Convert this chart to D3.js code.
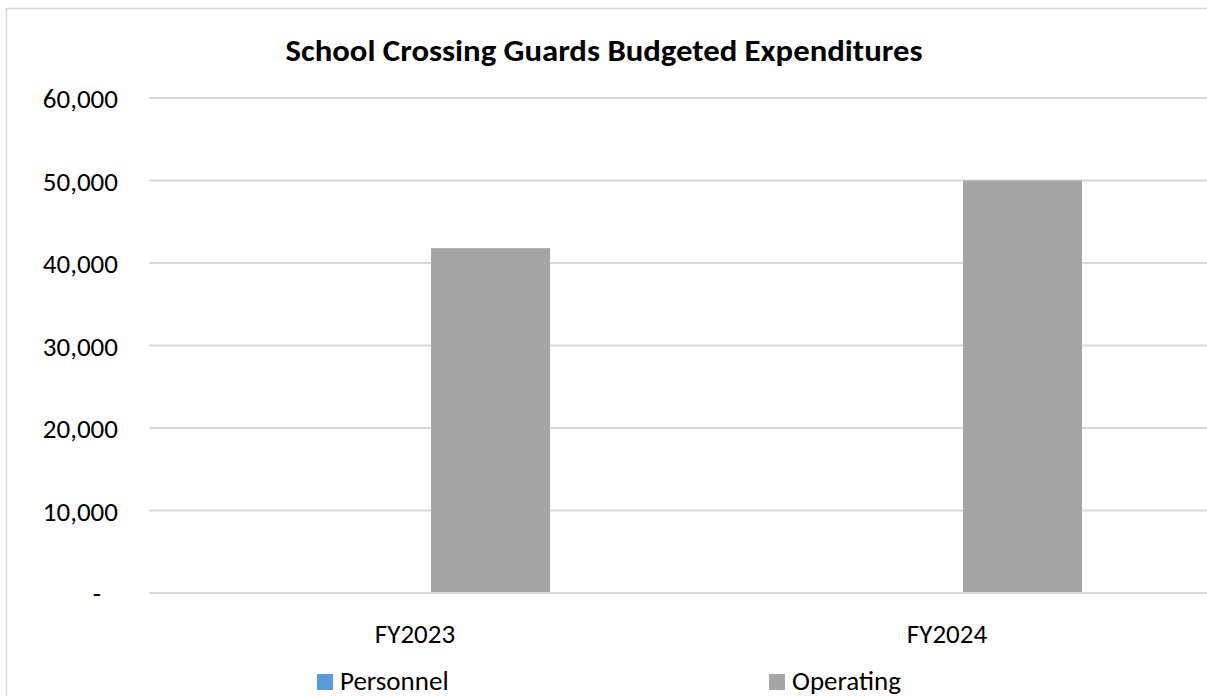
<!DOCTYPE html>
<html>
<head>
<meta charset="utf-8">
<script src="https://cdn.jsdelivr.net/npm/d3@7"></script>
<style>
  html, body { margin: 0; padding: 0; background: #fff; }
  svg { display: block; font-family: Carlito, Calibri, Lato, "Open Sans", sans-serif; }
</style>
</head>
<body>
<svg id="chart" width="1207" height="696"></svg>
<script>
// Budget figures by fiscal year
const categories = ["FY2023", "FY2024"];
const seriesNames = ["Personnel", "Operating"];
const personnel = [0, 0];
const operating = [41800, 50000];
const yTicks = [0, 10000, 20000, 30000, 40000, 50000, 60000];
const seriesColors = ["#5b9bd5", "#a5a5a5"];
const title = "School Crossing Guards Budgeted Expenditures";

const svg = d3.select("#chart");
const W = 1207, H = 696;

// chart frame
svg.append("path")
  .attr("d", `M6.5,${H} L6.5,8.5 L${W},8.5`)
  .attr("fill", "none")
  .attr("stroke", "#d9d9d9")
  .attr("stroke-width", 1.5);

// title
svg.append("text")
  .attr("x", 604)
  .attr("y", 61)
  .attr("text-anchor", "middle")
  .attr("font-weight", "bold")
  .attr("font-size", 30)
  .attr("textLength", 637)
  .attr("lengthAdjust", "spacingAndGlyphs")
  .attr("fill", "#000")
  .text(title);

const plotLeft = 149, plotRight = 1213;
const x0 = d3.scaleBand().domain(categories).range([plotLeft, plotRight]);
const x1 = d3.scaleBand().domain(seriesNames).range([0, x0.bandwidth()])
  .paddingInner(0.212).paddingOuter(0.8675);
const y = d3.scaleLinear().domain([0, 60000]).range([593, 98]);

// gridlines
svg.append("g")
  .selectAll("line")
  .data(yTicks)
  .join("line")
  .attr("x1", plotLeft)
  .attr("x2", W)
  .attr("y1", d => y(d))
  .attr("y2", d => y(d))
  .attr("stroke", "#d9d9d9")
  .attr("stroke-width", 2);

// y axis labels
const fmt = d3.format(",");
const yAxis = d3.axisLeft(y)
  .tickValues(yTicks)
  .tickSize(0)
  .tickPadding(0)
  .tickFormat(d => d === 0 ? "-" : fmt(d));
const yg = svg.append("g")
  .attr("transform", "translate(118,0)")
  .call(yAxis);
yg.select(".domain").remove();
yg.attr("font-family", null).attr("font-size", null);
yg.selectAll("text")
  .attr("font-size", 27)
  .attr("fill", "#000")
  .attr("dy", "0.36em")
  .attr("dx", d => d === 0 ? -17 : 0);

// bars
const rows = categories.map((c, i) => ({
  cat: c,
  values: [
    { name: seriesNames[0], value: personnel[i], color: seriesColors[0] },
    { name: seriesNames[1], value: operating[i], color: seriesColors[1] }
  ]
}));

svg.append("g")
  .selectAll("g")
  .data(rows)
  .join("g")
  .attr("transform", d => `translate(${x0(d.cat)},0)`)
  .selectAll("rect")
  .data(d => d.values)
  .join("rect")
  .attr("x", d => x1(d.name))
  .attr("width", x1.bandwidth())
  .attr("y", d => y(d.value))
  .attr("height", d => y(0) - y(d.value))
  .attr("fill", d => d.color);

// baseline drawn over bars
svg.append("line")
  .attr("x1", plotLeft).attr("x2", W)
  .attr("y1", y(0)).attr("y2", y(0))
  .attr("stroke", "#d9d9d9").attr("stroke-width", 2);

// category axis labels
const xAxis = d3.axisBottom(x0).tickSize(0).tickPadding(0);
const xg = svg.append("g").attr("transform", "translate(0,643)").call(xAxis);
xg.select(".domain").remove();
xg.attr("font-family", null).attr("font-size", null);
xg.selectAll("text")
  .attr("dy", 0)
  .attr("font-size", 27)
  .attr("fill", "#000");

// legend
const legendX = [317, 769];
const lg = svg.append("g")
  .selectAll("g")
  .data(seriesNames)
  .join("g")
  .attr("transform", (d, i) => `translate(${legendX[i]},674)`);
lg.append("rect")
  .attr("width", 16).attr("height", 16)
  .attr("fill", (d, i) => seriesColors[i]);
lg.append("text")
  .attr("x", 23)
  .attr("y", 16)
  .attr("font-size", 27)
  .attr("fill", "#000")
  .text(d => d);
</script>
</body>
</html>
